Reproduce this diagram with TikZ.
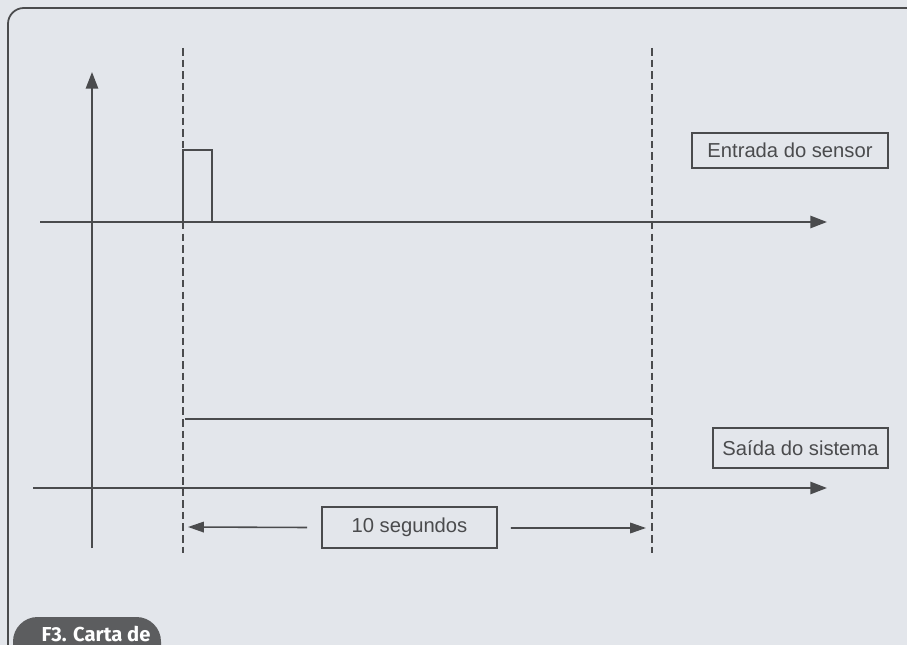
\documentclass[tikz,border=0pt]{standalone}
\usepackage{fontspec}
\setmainfont{Liberation Sans}
\newfontfamily\tabfont{Fira Sans}
\usepackage{xcolor}
\usepackage{tikz}
\usetikzlibrary{arrows.meta, calc, positioning}

\definecolor{paper}{HTML}{E3E6EB}
\definecolor{ink}{HTML}{4A4B4D}
\definecolor{tabgray}{HTML}{5C5D5F}

\begin{document}
\begin{tikzpicture}[
  x=0.02cm, y=-0.02cm,
  every node/.style={font=\fontsize{11.5}{13}\selectfont, text=ink},
  labelbox/.style={draw=ink, line width=1.1pt, inner sep=0pt},
  axis/.style={draw=ink, line width=1.1pt, -{Triangle[length=9.5pt, width=7pt]}},
  guide/.style={draw=ink, line width=0.6pt, dash pattern=on 4.3pt off 2.3pt},
  signal/.style={draw=ink, line width=1.1pt},
  span/.style={draw=ink, line width=0.9pt, -{Triangle[length=9pt, width=6pt]}},
]

% Page and frame
\useasboundingbox[fill=paper] (0,0) rectangle (907,645);
\draw[ink, line width=1pt, rounded corners=9] (8,660) -- (8,8) -- (920,8);

% Axes
\coordinate (yfoot) at (92,548);
\coordinate (ytip) at (92,72);
\coordinate (inleft) at (40,222);
\coordinate (intip) at (827,222);
\coordinate (outleft) at (33,488);
\coordinate (outtip) at (827,488);
\draw[axis] (yfoot) -- (ytip);
\draw[axis] (inleft) -- (intip);
\draw[axis] (outleft) -- (outtip);

% Dashed time marks
\coordinate (starttop) at (183,48);
\coordinate (startbot) at (183,553);
\coordinate (endtop) at (652,48);
\coordinate (endbot) at (652,553);
\draw[guide] (starttop) -- (startbot);
\draw[guide] (endtop) -- (endbot);

% Sensor pulse and system output
\coordinate (pulse0) at (183,222);
\coordinate (pulse1) at (183,150);
\coordinate (pulse2) at (212,150);
\coordinate (pulse3) at (212,222);
\draw[signal] (pulse0) -- (pulse1) -- (pulse2) -- (pulse3);
\coordinate (outon) at (185,419);
\coordinate (outoff) at (652,419);
\draw[signal] (outon) -- (outoff);

% Labels
\node[labelbox, minimum width=3.92cm, minimum height=0.7cm] (sensor) at (790,150.5) {Entrada do sensor};
\node[labelbox, minimum width=3.5cm, minimum height=0.8cm] (system) at (800.5,448) {Saída do sistema};
\node[labelbox, minimum width=3.5cm, minimum height=0.82cm] (delay) at (409.5,527.5) {10 segundos};

% Duration arrows
\coordinate (delayleft) at (188,527);
\coordinate (delayright) at (646,528);
\draw[span] (delay.west) ++(-14,0) -- (delayleft);
\draw[span] (delay.east) ++(13,0.5) -- (delayright);

% Caption tab
\fill[tabgray, rounded corners=14] (13,665) -- (13,617) -- (161,617) -- (161,665);
\node[font=\tabfont\bfseries\fontsize{11.5}{13}\selectfont, text=white] (caption) at (96,634) {F3. Carta de};
\end{tikzpicture}
\end{document}
